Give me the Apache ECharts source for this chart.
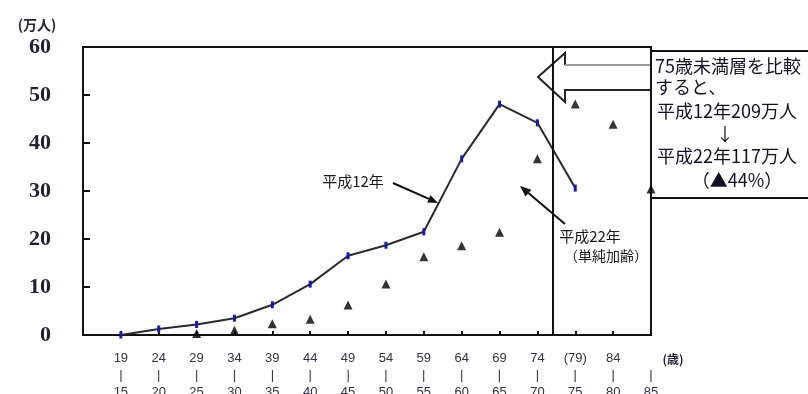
<!DOCTYPE html>
<html><head><meta charset="utf-8">
<script src="https://cdn.jsdelivr.net/npm/echarts@6/dist/echarts.min.js"></script>
<style>html,body{margin:0;padding:0;background:#fff}#c{width:808px;height:394px}</style>
</head><body><div id="c"></div>
<script>
// Age-group tick labels (upper age / lower age)
const ageTop    = ['19','24','29','34','39','44','49','54','59','64','69','74','(79)','84',''];
const ageBottom = ['15','20','25','30','35','40','45','50','55','60','65','70','75','80','85'];
// 平成12年 (万人), per age group; null = not plotted
const h12 = [0, 1.25, 2.2, 3.5, 6.3, 10.6, 16.5, 18.7, 21.5, 36.7, 48.1, 44.2, 30.6, null, null];
// 平成22年 (単純加齢)
const h22 = [null, null, 0.3, 1.0, 2.35, 3.3, 6.25, 10.6, 16.3, 18.6, 21.4, 36.7, 48.1, 43.9, 30.4];
const yTicks = [0, 10, 20, 30, 40, 50, 60];
const dividerPos = 12.41; // between 74 and (79)

const toPairs = arr => arr.map((v, i) => v == null ? null : [i + 1, v]).filter(d => d);

function arrow(x1, y1, x2, y2, hl, hw) {
  const dx = x2 - x1, dy = y2 - y1, L = Math.hypot(dx, dy), ux = dx / L, uy = dy / L;
  const bx = x2 - ux * hl, by = y2 - uy * hl;
  return [
    {type: 'line', shape: {x1: x1, y1: y1, x2: bx, y2: by}, style: {stroke: '#111', lineWidth: 2}},
    {type: 'polygon', shape: {points: [[x2, y2], [bx - uy * hw, by + ux * hw], [bx + uy * hw, by - ux * hw]]}, style: {fill: '#111'}}
  ];
}

const chart = echarts.init(document.getElementById('c'), null, {renderer: 'canvas'});
const cjk = '"Noto Sans CJK JP", sans-serif';
const boxText = (t, x, y, align) => ({type: 'text', x: x, y: y, style: {text: t, font: '18px ' + cjk, fill: '#111122', textAlign: align || 'left', textVerticalAlign: 'middle'}});

chart.setOption({
  animation: false,
  backgroundColor: '#fff',
  grid: {left: 83, right: 157, top: 47, bottom: 59, show: true, borderColor: '#111', borderWidth: 2, containLabel: false, outerBoundsMode: 'none'},
  xAxis: {
    type: 'value', min: 0, max: 15, interval: 1,
    axisLine: {show: true, lineStyle: {color: '#111', width: 2}},
    axisTick: {show: true, inside: true, length: 4, lineStyle: {color: '#111', width: 2}},
    splitLine: {show: false},
    axisLabel: {
      margin: 15, fontSize: 13, lineHeight: 17, color: '#333344', fontFamily: '"Liberation Sans", Arial, sans-serif',
      formatter: v => (v >= 1 && v <= 15) ? (ageTop[v - 1] + '\n|\n' + ageBottom[v - 1]) : ''
    }
  },
  yAxis: {
    type: 'value', min: yTicks[0], max: yTicks[yTicks.length - 1], interval: 10,
    axisLine: {show: true, lineStyle: {color: '#111', width: 2}},
    axisTick: {show: true, inside: true, length: 7, lineStyle: {color: '#111', width: 2}},
    splitLine: {show: false},
    axisLabel: {margin: 32, fontSize: 22, fontWeight: 'bold', color: '#222233', fontFamily: '"Liberation Serif", "Times New Roman", serif'}
  },
  series: [
    {
      name: '平成12年', type: 'line', data: toPairs(h12),
      lineStyle: {color: '#2a2a2a', width: 2},
      symbol: 'rect', symbolSize: [3, 7], showSymbol: true,
      itemStyle: {color: '#1a1aa6'},
      z: 3,
      markLine: {
        silent: true, symbol: 'none', label: {show: false},
        lineStyle: {color: '#111', width: 2, type: 'solid'},
        data: [{xAxis: dividerPos}]
      }
    },
    {
      name: '平成22年', type: 'scatter', data: toPairs(h22),
      symbol: 'triangle', symbolSize: 9,
      itemStyle: {color: '#000'}, z: 4
    }
  ],
  graphic: [
    {type: 'text', x: 37, y: 25, style: {text: '(万人)', font: 'bold 14px ' + cjk, fill: '#222233', textAlign: 'center', textVerticalAlign: 'middle'}},
    {type: 'text', x: 673, y: 359, style: {text: '(歳)', font: 'bold 12px ' + cjk, fill: '#222233', textAlign: 'center', textVerticalAlign: 'middle'}},
    // big hollow arrow
    {type: 'polyline', shape: {points: [[565, 65], [565, 53], [538, 77], [565, 102], [565, 90], [651, 90]]}, style: {stroke: '#222', lineWidth: 2, fill: null}},
    {type: 'line', shape: {x1: 565, y1: 65, x2: 651, y2: 65}, style: {stroke: '#999', lineWidth: 2}},
    // note box
    {type: 'rect', shape: {x: 651, y: 51, width: 170, height: 147}, style: {stroke: '#111', lineWidth: 2, fill: null}},
    boxText('75歳未満層を比較', 655, 66),
    boxText('すると、', 655, 87),
    boxText('平成12年209万人', 657, 111),
    boxText('↓', 725, 134, 'center'),
    boxText('平成22年117万人', 657, 156),
    boxText('（▲44%）', 737, 180, 'center'),
    // annotation labels
    {type: 'text', x: 353, y: 181, style: {text: '平成12年', font: '15px ' + cjk, fill: '#1a1a1a', textAlign: 'center', textVerticalAlign: 'middle'}},
    {type: 'text', x: 590, y: 236, style: {text: '平成22年', font: '15px ' + cjk, fill: '#1a1a1a', textAlign: 'center', textVerticalAlign: 'middle'}},
    {type: 'text', x: 606, y: 256, style: {text: '（単純加齢）', font: '14px ' + cjk, fill: '#1a1a1a', textAlign: 'center', textVerticalAlign: 'middle'}},
    ...arrow(393, 183, 438, 203, 10, 4),
    ...arrow(565, 224, 520, 186, 11, 4.5)
  ]
});
</script>
</body></html>
